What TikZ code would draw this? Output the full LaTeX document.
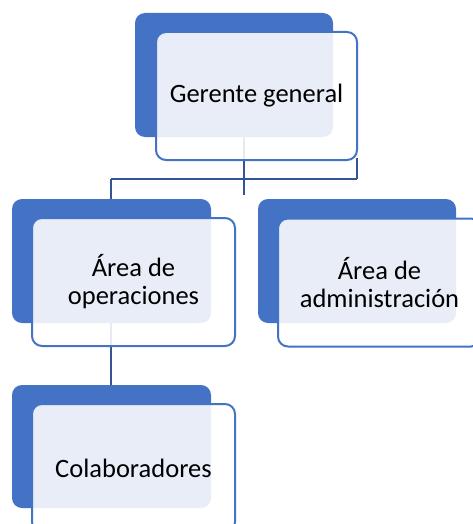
\documentclass[tikz,border=0pt]{standalone}
\usepackage{fontspec}
\setmainfont{Carlito}
\definecolor{dblue}{HTML}{4472C4}
\begin{document}
\begin{tikzpicture}[x=1pt,y=-1pt,
  darkbox/.style={rectangle,rounded corners=10pt,fill=dblue,draw=none,minimum width=198pt,minimum height=124pt,inner sep=0pt},
  innerbox/.style={rectangle,rounded corners=10pt,draw=dblue,line width=2pt,fill=white,fill opacity=0.88,text opacity=1,minimum width=201pt,minimum height=128pt,align=center,font=\fontsize{26.5}{28}\selectfont,inner sep=0pt},
  conn/.style={draw=dblue!75!black,line width=2.2pt}]
\useasboundingbox (0,0) rectangle (473,524);
% coordinates for connectors
\coordinate (j1) at (244,195);
\coordinate (hl) at (111,179);
\coordinate (hr) at (357,179);
\coordinate (ht) at (244,137);
% connectors (behind boxes)
\draw[conn] (ht) -- (j1);
\draw[conn] (hl) -- (hr);
\draw[conn] (357,158) -- (hr);
\draw[conn] (hl) -- (111,199);
\draw[conn] (111,323) -- (111,385);
% top
\node[darkbox] (topdark) at (234,75) {};
\node[innerbox] (topinner) at (256.5,96) {Gerente general};
% left
\node[darkbox,minimum width=199pt] (leftdark) at (111.5,261) {};
\node[innerbox,minimum width=203pt] (leftinner) at (133.5,282) {Área de\\operaciones};
% right
\node[darkbox] (rightdark) at (357,261) {};
\node[innerbox,minimum width=203pt] (rightinner) at (379.5,282.5) {Área de\\administración};
% bottom
\node[darkbox,minimum width=199pt,minimum height=123pt] (botdark) at (111.5,446.5) {};
\node[innerbox,minimum width=203pt] (botinner) at (133.5,468) {Colaboradores};
\end{tikzpicture}
\end{document}
